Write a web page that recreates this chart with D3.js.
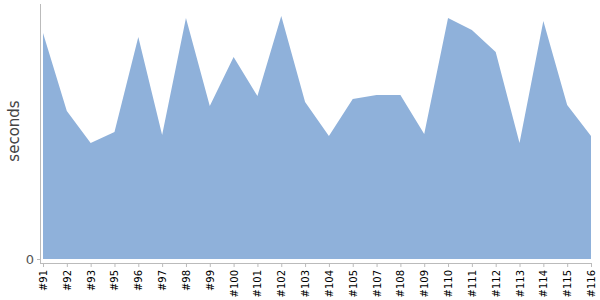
<!DOCTYPE html>
<html>
<head>
<meta charset="utf-8">
<script src="https://cdn.jsdelivr.net/npm/d3@7"></script>
<style>
  body { margin: 0; background: #fff; }
  .axis text { font-family: "DejaVu Sans", sans-serif; font-size: 10px; fill: #000; }
  .axis path, .axis line { stroke: #bbb; }
</style>
</head>
<body>
<div id="chart"></div>
<script>
var builds = ["#91","#92","#93","#95","#96","#97","#98","#99","#100","#101","#102","#103",
              "#104","#105","#107","#108","#109","#110","#111","#112","#113","#114","#115","#116"];
var seconds = [226,148,116,127,222,124,241,153,202,163,243,157,
               123,160,164,164,125,241,229,207,116,238,154,123];
var yTicks = [0];

var w = 600, h = 300;
var plotLeft = 40, plotTop = 4, base = 259;

var data = builds.map(function(b, i) { return { build: b, value: seconds[i] }; });

var xScale = d3.scalePoint()
    .domain(builds)
    .range([43, 591]);

var yScale = d3.scaleLinear()
    .domain([0, 255])
    .range([base, plotTop]);

var svg = d3.select("#chart").append("svg")
    .attr("width", w)
    .attr("height", h);

var area = d3.area()
    .x(function(d) { return xScale(d.build); })
    .y0(base)
    .y1(function(d) { return yScale(d.value); });

svg.append("path")
    .datum(data)
    .attr("d", area)
    .attr("fill", "#8fb1da");

// y axis
var yAxis = svg.append("g")
    .attr("class", "axis")
    .attr("transform", "translate(" + plotLeft + ",0)")
    .call(d3.axisLeft(yScale).tickValues(yTicks).tickSize(3).tickSizeOuter(0));
yAxis.select(".domain").attr("d", "M0.5," + plotTop + "V263");
yAxis.selectAll("text").style("fill", "#555")
    .style("font-size", "13px").attr("x", -6);

// x axis
svg.append("g")
    .attr("class", "axis")
    .attr("transform", "translate(0,263)")
    .call(d3.axisBottom(xScale).tickSize(4).tickSizeOuter(0))
    .call(function(g) { g.select(".domain").attr("d", "M" + plotLeft + ",0.5H591"); })
    .selectAll("text")
    .attr("transform", "rotate(-90)")
    .attr("text-anchor", "end")
    .attr("x", -7)
    .attr("y", 0)
    .attr("dy", "0.35em");

svg.append("text")
    .attr("transform", "translate(19,131) rotate(-90)")
    .attr("text-anchor", "middle")
    .style("font-family", "DejaVu Sans, sans-serif")
    .style("font-size", "15px")
    .style("fill", "#444")
    .text("seconds");
</script>
</body>
</html>
